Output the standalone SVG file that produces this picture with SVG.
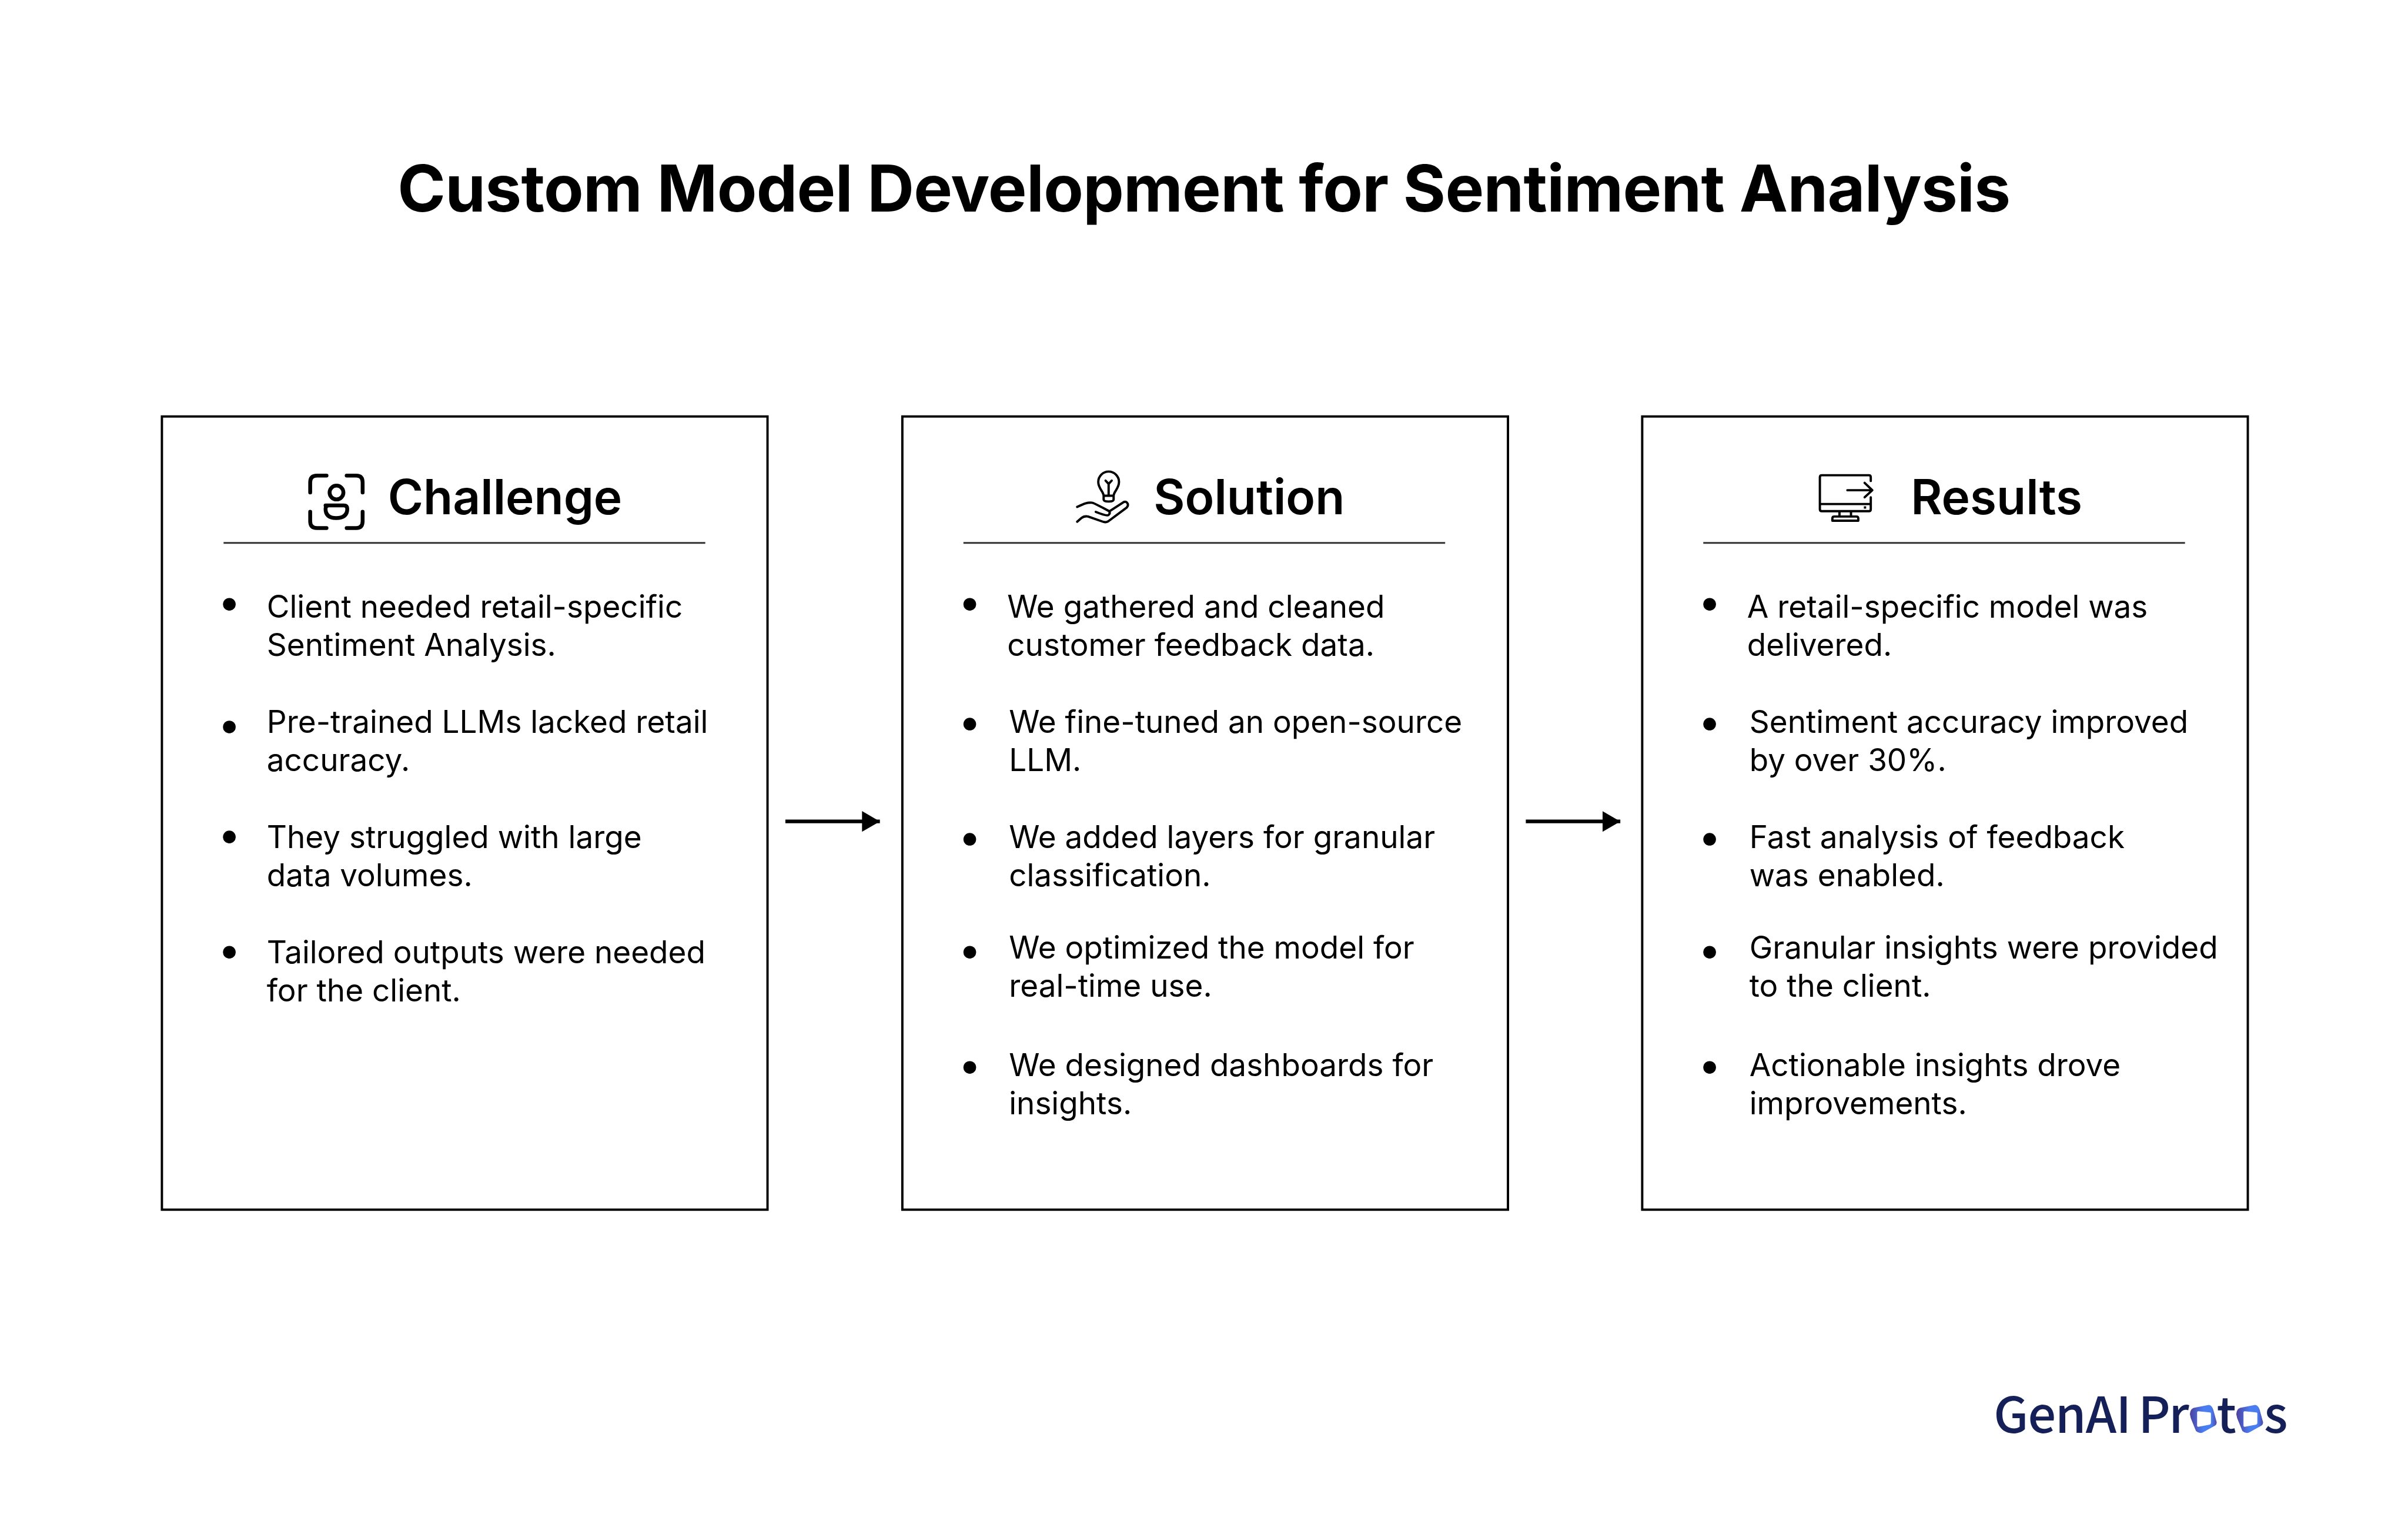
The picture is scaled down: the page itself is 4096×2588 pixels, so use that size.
<svg xmlns="http://www.w3.org/2000/svg" width="4096" height="2588" viewBox="0 0 4096 2588">
<style>
text{font-family:Inter,"Liberation Sans",sans-serif;fill:#000}
.t{font-size:112.7px;font-weight:650;letter-spacing:-.75px}
.h{font-size:83.6px;font-weight:600}
.b{font-size:54.1px;font-weight:400}
.box{fill:#fff;stroke:#000;stroke-width:4}
.rule{stroke:#333;stroke-width:3}
.ic{fill:none;stroke:#000;stroke-linecap:round;stroke-linejoin:round;stroke-width:20}
.ln{fill:none;stroke:#000;stroke-width:6.5}
.lg{font-family:"Noto Sans CJK SC","Noto Sans",sans-serif;font-size:86px;font-weight:500;fill:#162058}
</style>
<defs>
<marker id="ah" markerUnits="userSpaceOnUse" markerWidth="32" markerHeight="38" refX="31" refY="18" orient="auto"><path d="M0 0L31 18L0 36Z" fill="#000"/></marker>
<linearGradient id="lgo" x1="0" y1="0" x2="1" y2="0"><stop offset="0" stop-color="#4d3f9c"/><stop offset=".5" stop-color="#4a7df0"/><stop offset=".8" stop-color="#4a7df0"/><stop offset="1" stop-color="#4d4aa8"/></linearGradient>
</defs>
<rect width="4096" height="2588" fill="#fff"/>
<g transform="scale(0.98014)">
<g id="title"><text class="t" x="690" y="367">Custom Model Development for Sentiment Analysis</text></g>
<g id="challenge">
<rect class="box" x="281" y="723" width="1051" height="1377"/>
<g transform="translate(500,790) scale(.3333)" class="ic">
<path d="M200 107H150Q115 107 115 142V195M305 107H355Q388 107 388 142V195M115 295V345Q115 380 150 380H200M388 295V345Q388 380 355 380H305"/>
<circle cx="252" cy="195" r="36"/>
<path d="M195 262H290Q308 262 308 280Q308 328 250 328Q195 328 195 280Q195 262 212 262Z"/>
</g>
<text class="h" x="673" y="893">Challenge</text>
<line class="rule" x1="388" y1="942.5" x2="1224" y2="942.5"/>
<circle cx="398" cy="1049" r="11"/><circle cx="398" cy="1262" r="11"/><circle cx="398" cy="1453" r="11"/><circle cx="398" cy="1653" r="11"/>
<text class="b" x="463" y="1072">Client needed retail-specific</text>
<text class="b" x="463" y="1138.5">Sentiment Analysis.</text>
<text class="b" x="463" y="1272">Pre-trained LLMs lacked retail</text>
<text class="b" x="463" y="1338.5">accuracy.</text>
<text class="b" x="463" y="1472">They struggled with large</text>
<text class="b" x="463" y="1538.5">data volumes.</text>
<text class="b" x="463" y="1672">Tailored outputs were needed</text>
<text class="b" x="463" y="1738.5">for the client.</text>
</g>
<g id="solution">
<rect class="box" x="1566" y="723" width="1051" height="1377"/>
<g transform="translate(1840,790) scale(.3333)" class="ic" style="stroke-width:12">
<path d="M226 212C226 190 198 175 198 140A54 54 0 0 1 306 140C306 175 278 190 278 212V232Q278 242 252 242Q226 242 226 232ZM226 212H278M252 208V150M236 133L252 150L268 133"/>
<path d="M88 270C120 255 140 245 165 248C180 250 240 285 255 292Q262 305 250 313Q240 318 185 296M258 292L330 245Q345 238 352 255Q355 268 340 278L250 345Q238 352 225 348L145 320Q125 316 110 328L88 347"/>
</g>
<text class="h" x="2002" y="893">Solution</text>
<line class="rule" x1="1672" y1="942.5" x2="2508" y2="942.5"/>
<circle cx="1683" cy="1049" r="11"/><circle cx="1683" cy="1257" r="11"/><circle cx="1683" cy="1457" r="11"/><circle cx="1683" cy="1653" r="11"/><circle cx="1683" cy="1853" r="11"/>
<text class="b" x="1748" y="1072">We gathered and cleaned</text>
<text class="b" x="1748" y="1138.5">customer feedback data.</text>
<text class="b" x="1751" y="1272">We fine-tuned an open-source</text>
<text class="b" x="1751" y="1338.5">LLM.</text>
<text class="b" x="1751" y="1472">We added layers for granular</text>
<text class="b" x="1751" y="1538.5">classification.</text>
<text class="b" x="1751" y="1664">We optimized the model for</text>
<text class="b" x="1751" y="1730.5">real-time use.</text>
<text class="b" x="1751" y="1868">We designed dashboards for</text>
<text class="b" x="1751" y="1934.5">insights.</text>
</g>
<g id="results">
<rect class="box" x="2850" y="723" width="1051" height="1377"/>
<g transform="translate(3130,800) scale(.3333)" class="ic" style="stroke-width:12">
<path d="M350 105V85Q350 75 340 75H95Q85 75 85 85V252Q85 262 95 262H340Q350 262 350 252V190M85 225H350M187 262V290M247 262V290M150 312V300Q150 290 160 290H275Q285 290 285 300V312ZM228 153H358M318 115L358 153L318 190"/>
<rect x="314" y="237" width="12" height="12" fill="#000" stroke="none"/>
</g>
<text class="h" x="3316" y="893">Results</text>
<line class="rule" x1="2956" y1="942.5" x2="3792" y2="942.5"/>
<circle cx="2967" cy="1049" r="11"/><circle cx="2967" cy="1257" r="11"/><circle cx="2967" cy="1457" r="11"/><circle cx="2967" cy="1653" r="11"/><circle cx="2967" cy="1853" r="11"/>
<text class="b" x="3032" y="1072">A retail-specific model was</text>
<text class="b" x="3032" y="1138.5">delivered.</text>
<text class="b" x="3036" y="1272">Sentiment accuracy improved</text>
<text class="b" x="3036" y="1338.5">by over 30%.</text>
<text class="b" x="3036" y="1472">Fast analysis of feedback</text>
<text class="b" x="3036" y="1538.5">was enabled.</text>
<text class="b" x="3036" y="1664">Granular insights were provided</text>
<text class="b" x="3036" y="1730.5">to the client.</text>
<text class="b" x="3036" y="1868">Actionable insights drove</text>
<text class="b" x="3036" y="1934.5">improvements.</text>
</g>
<g id="connectors">
<line class="ln" x1="1363" y1="1426" x2="1527" y2="1426" marker-end="url(#ah)"/>
<line class="ln" x1="2648" y1="1426" x2="2812" y2="1426" marker-end="url(#ah)"/>
</g>
<g id="logo">
<text class="lg" x="3460" y="2487" letter-spacing="-1">GenAI</text>
<text class="lg" x="3711" y="2487">P</text>
<text class="lg" x="3764" y="2487">r</text>
<text class="lg" x="3847" y="2487">t</text>
<text class="lg" x="3929" y="2487">s</text>
<path fill="url(#lgo)" fill-rule="evenodd" d="M3800.5 2455Q3801 2446 3807 2444L3833 2439Q3838 2439 3841 2447L3847 2469Q3847 2473 3844 2475L3824 2486Q3817 2490 3811 2484L3802 2462ZM3815 2450Q3813 2450 3813 2452V2475Q3813 2477 3815 2477L3835 2473Q3837 2472 3837 2470V2454Q3837 2452 3835 2452Z"/>
<path transform="translate(80.5,0)" fill="url(#lgo)" fill-rule="evenodd" d="M3800.5 2455Q3801 2446 3807 2444L3833 2439Q3838 2439 3841 2447L3847 2469Q3847 2473 3844 2475L3824 2486Q3817 2490 3811 2484L3802 2462ZM3815 2450Q3813 2450 3813 2452V2475Q3813 2477 3815 2477L3835 2473Q3837 2472 3837 2470V2454Q3837 2452 3835 2452Z"/>
</g>
</g>
</svg>
